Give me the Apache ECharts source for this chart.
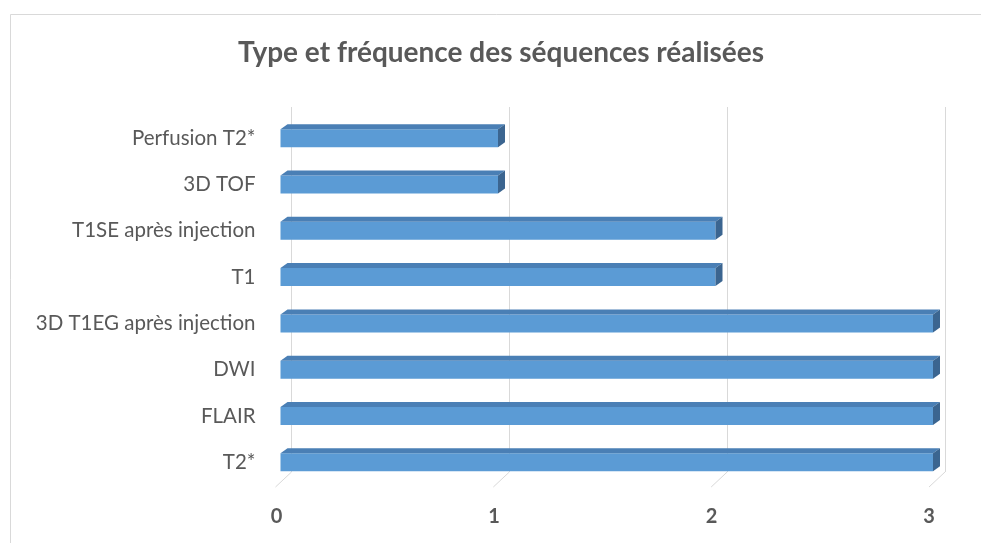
<!DOCTYPE html>
<html>
<head>
<meta charset="utf-8">
<script src="https://cdn.jsdelivr.net/npm/echarts@6/dist/echarts.min.js"></script>
<style>
  html, body { margin: 0; padding: 0; background: #fff; }
  #chart { width: 981px; height: 543px; }
</style>
</head>
<body>
<div id="chart"></div>
<script>
var categories = ['T2*', 'FLAIR', 'DWI', '3D T1EG après injection', 'T1', 'T1SE après injection', '3D TOF', 'Perfusion T2*'];
var counts = [3, 3, 3, 3, 2, 2, 1, 1];
var xTicks = [0, 1, 2, 3];

var textColor = '#595959';
var fontFam = 'Lato, "Open Sans", sans-serif';
var depthX = 7, depthY = 5, barH = 18;

var myChart = echarts.init(document.getElementById('chart'));

function renderBar(params, api) {
    var start = api.coord([0, api.value(0)]);
    var end = api.coord([api.value(1), api.value(0)]);
    var x0 = start[0], x1 = end[0];
    var yT = start[1] - barH / 2, yB = start[1] + barH / 2;
    return {
        type: 'group',
        children: [
            {
                type: 'rect',
                shape: { x: x0, y: yT, width: x1 - x0, height: barH },
                style: { fill: '#5b9bd5' }
            },
            {
                type: 'polygon',
                shape: { points: [[x0, yT], [x0 + depthX, yT - depthY], [x1 + depthX, yT - depthY], [x1, yT]] },
                style: { fill: '#4a7fb5' }
            },
            {
                type: 'polygon',
                shape: { points: [[x1, yT], [x1 + depthX, yT - depthY], [x1 + depthX, yB - depthY], [x1, yB]] },
                style: { fill: '#3b6590' }
            }
        ]
    };
}

function renderFloorTick(params, api) {
    var cs = params.coordSys;
    var p = api.coord([api.value(0), 0]);
    var yb = cs.y + cs.height;
    return {
        type: 'line',
        shape: { x1: p[0], y1: yb, x2: p[0] - 16, y2: yb + 15 },
        style: { stroke: '#d9d9d9', lineWidth: 1 }
    };
}

var option = {
    backgroundColor: '#fff',
    animation: false,
    title: {
        text: 'Type et fréquence des séquences réalisées',
        left: 238,
        top: 39,
        padding: 0,
        textStyle: { fontFamily: fontFam, fontSize: 28, fontWeight: 'bold', color: textColor }
    },
    graphic: [{
        type: 'rect',
        left: 8, top: 12,
        shape: { width: 1000, height: 600 },
        style: { fill: 'none', stroke: '#d9d9d9', lineWidth: 1 },
        silent: true
    }],
    grid: [
        { left: 291.5, right: 36, top: 107, bottom: 71 },
        { left: 280.5, right: 48, top: 115, bottom: 57.5 }
    ],
    xAxis: [
        {
            gridIndex: 0, type: 'value', min: 0, max: 3, interval: 1,
            axisLine: { show: false }, axisTick: { show: false }, axisLabel: { show: false },
            splitLine: { show: true, lineStyle: { color: '#d9d9d9', width: 1 } }
        },
        {
            gridIndex: 1, type: 'value', min: 0, max: 3, interval: 1,
            axisLine: { show: false }, axisTick: { show: false },
            splitLine: { show: false },
            axisLabel: {
                margin: 21, padding: [0, 8, 0, 0],
                fontFamily: fontFam, fontSize: 20, fontWeight: 'bold', color: textColor
            }
        }
    ],
    yAxis: [
        {
            gridIndex: 0, type: 'category', data: categories, show: false
        },
        {
            gridIndex: 1, type: 'category', data: categories,
            axisLine: { show: false }, axisTick: { show: false }, splitLine: { show: false },
            axisLabel: {
                margin: 25, padding: [8, 0, 0, 0],
                fontFamily: fontFam, fontSize: 20.5, color: textColor
            }
        }
    ],
    series: [
        {
            type: 'custom', xAxisIndex: 0, yAxisIndex: 0,
            renderItem: renderFloorTick,
            data: xTicks.map(function (v) { return [v]; }),
            silent: true
        },
        {
            type: 'custom', xAxisIndex: 1, yAxisIndex: 1,
            renderItem: renderBar,
            encode: { x: 1, y: 0 },
            data: counts.map(function (v, i) { return [i, v]; })
        }
    ]
};

myChart.setOption(option);
window.addEventListener('resize', function () { myChart.resize(); });
</script>
</body>
</html>
